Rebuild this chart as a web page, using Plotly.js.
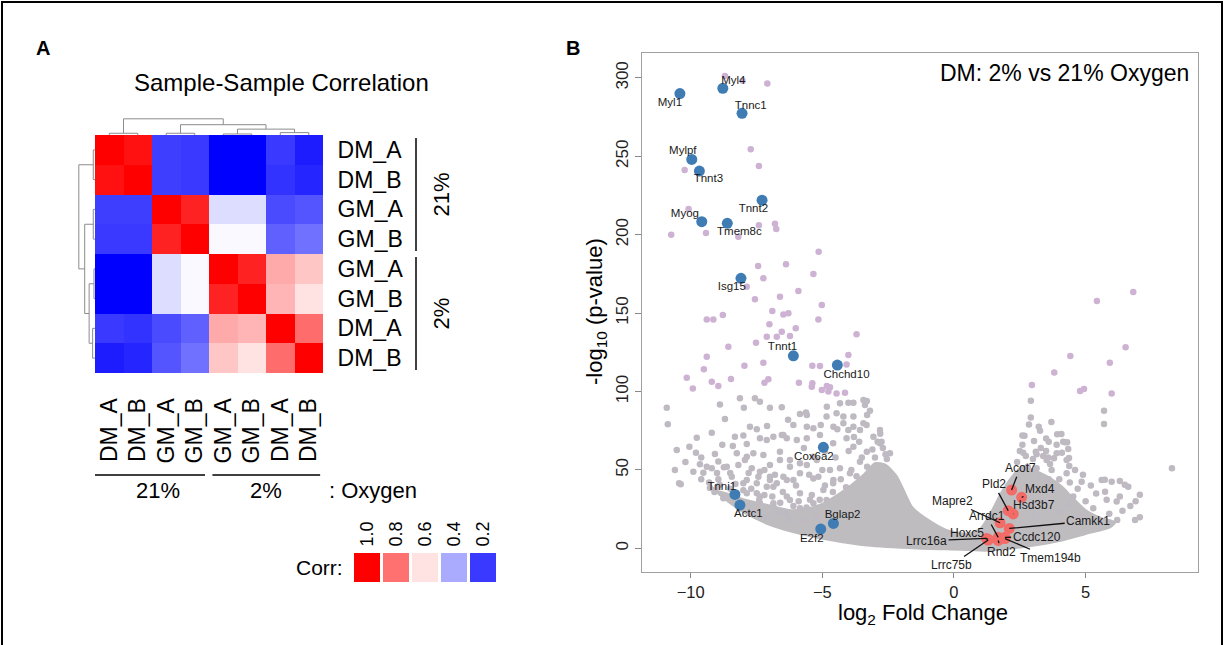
<!DOCTYPE html>
<html><head><meta charset="utf-8">
<script src="https://cdn.plot.ly/plotly-3.0.1.min.js"></script>
<style>
html,body{margin:0;padding:0;background:#fff;}
#wrap{position:relative;width:1226px;height:645px;overflow:hidden;}
#chart{width:1226px;height:645px;}
#frame{position:absolute;left:1px;top:1px;width:1218px;height:700px;border:2px solid #000;border-bottom:none;pointer-events:none;}
</style></head>
<body><div id="wrap"><div id="chart"></div><div id="frame"></div></div>
<script>
// ---------- Panel A data ----------
const sampleLabels = ['DM_A','DM_B','GM_A','GM_B','GM_A','GM_B','DM_A','DM_B'];
const groupLabels = ['21%','2%'];
const groupStart = [0,4];
const groupEnd = [3,7];
const corr = [
 [1.00,0.97,0.21,0.20,0.10,0.10,0.20,0.15],
 [0.97,1.00,0.21,0.20,0.10,0.10,0.19,0.165],
 [0.21,0.21,1.00,0.94,0.49,0.49,0.23,0.25],
 [0.20,0.20,0.94,1.00,0.54,0.54,0.27,0.30],
 [0.10,0.10,0.49,0.54,1.00,0.94,0.70,0.65],
 [0.10,0.10,0.49,0.54,0.94,1.00,0.68,0.60],
 [0.20,0.19,0.23,0.27,0.70,0.68,1.00,0.81],
 [0.15,0.165,0.25,0.30,0.65,0.60,0.81,1.00]
];
// hclust-style merges (negative = leaf, positive = earlier merge)
const mergeA = [-1,-3,-5,-7,3,2,1];
const mergeB = [-2,-4,-6,-8,4,5,6];
const mergeH = [1.7,1.7,1.0,2.3,5.7,10,15.7];
const legendVals = [1.0,0.8,0.6,0.4,0.2];
const legendLabels = ['1.0','0.8','0.6','0.4','0.2'];

// ---------- Panel B data ----------
const hiX = [-8.70,-8.03,-7.09,-7.72,-7.41,-10.23,-10.08,-10.74,-9.42,-7.41,-6.80,-6.75,-8.19,-5.14,-7.44,-6.38,-5.34,-7.24,-7.87,-7.56,-6.61,-5.91,-5.02,-9.39,-9.14,-8.78,-6.90,-6.48,-6.29,-5.15,-7.01,-6.54,-6.01,-7.11,-6.73,-6.23,-3.70,-7.52,-8.57,-9.39,-7.24,-5.38,-5.09,-4.08,-4.01,-9.50,-7.96,-10.15,-9.92,-9.20,-8.95,-8.47,-7.20,-7.05,-5.89,-5.38,-5.02,-4.83,-4.71,-4.46,-4.14,-5.40,-4.77,
  6.81,5.43,6.52,4.42,5.92,3.81,2.96,4.79,4.94,5.99];
const hiY = [301.2,298.2,296.5,254.5,243.8,241.3,216.4,200,201.1,206,207,203.6,198.7,189.2,180,181.1,174.9,172.2,166.8,158.8,160.5,164.1,155.2,146,146,148.8,151.3,149.2,149.9,146,142.9,138.1,140.3,135,135,135.4,136.5,131.1,128.6,122.2,118.4,116.5,116.3,117.3,123.3,114.2,116.5,108.8,102,106.3,103.5,108,105.6,107.8,105.6,105.2,101,103.5,102.7,98.8,99.2,103.1,100,
  163.5,157.7,128.2,122.6,118.4,112.2,104.1,100.3,101.6,98.8];
const loX = [-8.13,-7.37,-8.89,-7.98,-7.56,-6.99,-6.54,-5.85,-5.62,-4.83,-4.33,-3.82,-3.44,-3.38,-3.19,-10.91,-10.87,-8.70,-6.10,-5.59,-5.34,-5.06,-4.58,-4.43,-4.01,-3.82,-3.44,-3.32,-7.49,-6.54,-6.35,-9.20,-9.77,-10.53,-10.05,-9.80,-9.08,-8.40,-8.32,-7.87,-7.11,-5.97,-9.52,-10.44,-10.38,-9.20,-8.74,-8.19,-7.68,-7.43,-6.99,-6.48,-6.10,
  -9.65,-9.39,-8.95,-8.63,-8.25,-7.94,-7.62,-7.37,-6.99,-6.61,-6.23,-5.85,-5.59,-5.34,-5.15,-4.58,-4.33,-9.90,-8.95,-8.44,-8.00,-7.49,-7.11,-6.73,-6.35,-5.85,-5.47,-6.35,-6.86,-7.37,-7.87,-9.07,-8.76,
  -5.59,-4.84,-4.46,-4.20,-3.82,-3.57,-3.06,-2.81,-4.01,-3.31,-5.09,-4.59,-4.08,-3.82,-3.31,-2.81,-2.43,-5.85,-5.21,-4.71,-3.95,-3.57,-5.34,-4.96,-4.59,-5.85,-5.34,-4.84,-5.72,-5.21,-6.61,-6.23,-6.86,-7.75,-7.37,-6.86,-6.48,-5.59,-7.87,-7.24,-6.61,-6.23,-7.87,-7.49,-6.99,-6.86,-6.35,-7.37,-6.23,-7.87,-7.62,-7.11,
  -2.80,-2.75,-2.70,-2.60,-2.55,-9.27,-9.10,-9.00,
  -9.6,-9.3,-8.9,-8.5,-8.3,-8.0,-7.7,-7.4,-7.2,-6.9,-6.6,-6.5,-6.1,-5.9,-5.6,-5.4,-5.1,-4.9,-4.6,-4.3,-4.1,-3.9,-3.7,-3.5,-3.3,-3.1,-3.0,-2.9,-3.6,-4.0,-4.5,-5.0,-5.5,-6.0,-6.8,-7.2,-7.8,-8.5,-9.0,-9.6,-10.2,-10.6,-8.8,-8.0,-7.1,-6.3,-5.7,-4.9,-4.2,-3.8,-3.3,
  2.92,8.28,2.92,5.70,5.70,3.70,3.22,3.27,2.68,3.92,4.08,3.04,4.22,4.30,4.34,2.63,2.73,3.11,3.14,3.39,3.58,3.80,4.37,3.65,4.38,4.15,3.90,3.52,4.28,3.14,3.71,4.28,4.85,5.61,5.99,5.74,6.30,6.62,6.18,6.88,7.06,5.54,5.29,4.78,4.34,4.02,4.53,3.77,3.39,2.88,3.08,5.73,6.49,7.06,
  2.4,2.5,2.6,2.8,3.0,3.3,3.5,3.6,3.9,4.1,4.6,4.9,5.2,5.4,4.7,4.4,4.0,3.6,3.2,5.8,6.4,6.7,5.9,6.2,5.0,2.6,2.85,3.5,6.3,6.9];
const loY = [95.7,93.5,91.8,89.7,95.7,89.7,89.9,85.7,86.7,90.3,92.5,92.9,94.6,91.4,87.8,89.7,79.1,82.5,78.6,77.6,76.5,78.6,77.6,75.9,75.4,77.6,79.7,78.6,75.9,72.3,70.2,73.7,70.5,62.7,64.8,61,60.1,65.2,71.2,66.5,69.1,69.1,48.2,41.5,40.8,51,51.7,53.1,51,45.7,43.6,45.7,43.6,
  53.6,52.1,55.3,52.1,60.6,56.3,60.6,48.9,53.1,56.3,52.1,47.8,53.1,58.4,45.7,43.6,51,48.9,44,45.7,41.5,35.1,39.3,41.5,33,35.1,30.9,22.4,26.6,28.7,35.1,37.2,31.9,
  85,84,86.1,79.7,84,75.4,71.2,75.4,92.8,93.9,72.3,67,70.2,64.8,61.6,67,60.6,54.2,56.3,49.9,47.8,55.2,44.6,37.2,41.5,25.5,28.7,30.8,18.1,20.2,22.3,18.1,28.7,77.6,70.2,71.2,72.3,70.2,58.4,59.5,61.6,56.3,43.6,41.5,45.7,39.3,43.6,33,30.8,26.6,22.3,20.2,
  73,68,64,60,57,38.5,36,39,
  44,42,40.5,38,41,37,38,31,34,33,29,36,27,30,26,34,31,40,36,44,39,50,46,58,52,63,58,68,68,62,58,50,47,40,47,50,48,48,48,58,55,50,66,72,78,82,64,62,84,71,85,
  94.1,51,83.5,87.8,79.3,80.5,77.6,75,71.8,72.7,72.9,68.4,67.6,67.6,63.3,61,58.9,61.6,60,58.9,58,57.4,57.6,53.8,52.5,68,60.6,56.3,56.3,51,49.9,47.8,42.5,43.6,42.5,36.1,33,39.3,29.8,18.1,19.8,16.9,25.5,20.2,27.6,23.3,33,37.2,30.8,26.6,21.3,43.7,40.5,34.1,
  55,62,66,52,57,64,62,68,66,61,50,47,40,35,38,42,44,44,46,31,24,27,22,18,30,72,79,70,43,30];
// outline of the solid, over-plotted core of the cloud
const coreX = [-9.0,-8.1,-7.1,-5.85,-4.6,-3.3,-1.4,0.3,1.2,1.9,2.8,4.0,5.0,5.9,6.1,5.6,5.0,4.5,4.1,3.6,3.1,2.6,2.2,1.8,1.4,1.0,0.5,-0.3,-1.0,-1.6,-1.9,-2.2,-2.6,-3.0,-3.4,-3.9,-4.4,-5.0,-5.6,-6.2,-7.0,-8.0,-8.7,-9.0];
const coreY = [36,24.5,16,9.6,5.3,2.1,0.2,-0.6,-1.2,-0.3,1.5,5,9.5,13.5,16.5,19,24,32,39,45,49,52,45,35,22,12,9,11.5,18,26,36,46,53,54,47,40,34,28,25,24,27,31,35,36];

const blueGenes = ['Myl1','Myl4','Tnnc1','Mylpf','Tnnt3','Tnnt2','Myog','Tmem8c','Isg15','Tnnt1','Chchd10','Cox6a2','Tnni1','Actc1','Bglap2','E2f2'];
const blueX = [-10.41,-8.78,-8.05,-9.96,-9.67,-7.29,-9.58,-8.61,-8.09,-6.10,-4.43,-4.96,-8.32,-8.13,-4.58,-5.06];
const blueY = [290,293.4,277.4,248,240.6,222,208.3,207.3,172.2,122.8,116.9,64.4,34.4,27.6,15.9,12.3];
const blueLabX = [-10.79,-8.38,-7.72,-10.3,-9.33,-7.62,-10.22,-8.15,-8.44,-6.51,-4.08,-5.32,-8.82,-7.81,-4.23,-5.40];
const blueLabY = [283.8,298.2,282,253.6,235.3,216.6,213,201.9,166.5,128,110.5,58,39.3,21.9,21.2,5.7];

const redGenes = ['Acot7','Mxd4','Pld2','Hsd3b7','Mapre2','Arrdc1','Camkk1','Hoxc5','Ccdc120','Lrrc16a','Rnd2','Lrrc75b','Tmem194b'];
const redX = [2.19,2.57,2.06,2.25,1.75,1.68,2.10,1.30,1.94,1.24,1.68,1.30,1.94];
const redY = [37.2,32.5,24.0,21.9,16.3,7.0,12.7,5.7,7.0,6.3,5.0,5.3,6.2];
const redLabX = [2.51,3.27,1.52,3.05,-0.06,1.24,5.10,0.48,3.14,-1.04,1.81,-0.09,3.65];
const redLabY = [51,37.6,40.8,27.4,30.2,20.6,17.4,10,7.4,4.9,-2.1,-10.6,-6];

// ---------- build ----------
const FONT = 'Liberation Sans, Arial, Helvetica, sans-serif';
const W = 1226, H = 645;
const px = v => v / W, py = v => 1 - v / H;

function dendro(){
  const pos = [], hgt = [], xs = [], ys = [];
  const P = i => i < 0 ? -i - 1 : pos[i - 1];
  const Hh = i => i < 0 ? 0 : hgt[i - 1];
  for (let k = 0; k < mergeA.length; k++){
    const a = mergeA[k], b = mergeB[k], h = mergeH[k];
    const pa = P(a), pb = P(b);
    xs.push(pa, pa, pb, pb, null); ys.push(Hh(a), h, h, Hh(b), null);
    pos.push((pa + pb) / 2); hgt.push(h);
  }
  return {xs, ys};
}
const dd = dendro();
const idx = sampleLabels.map((_, i) => i);
const cs = [[0,'#0000FF'],[0.5,'#FFFFFF'],[1,'#FF0000']];

const traces = [
  {type:'heatmap', z:corr, x:idx, y:idx, xaxis:'x', yaxis:'y', zmin:0.1, zmax:1.0, colorscale:cs, showscale:false, hoverinfo:'skip'},
  {type:'scatter', mode:'lines', x:dd.xs, y:dd.ys, xaxis:'x2', yaxis:'y2', line:{color:'#8c8c8c', width:1}, hoverinfo:'skip'},
  {type:'scatter', mode:'lines', x:dd.ys, y:dd.xs, xaxis:'x3', yaxis:'y3', line:{color:'#8c8c8c', width:1}, hoverinfo:'skip'},
  {type:'heatmap', z:[legendVals], x:legendVals.map((_, i) => i), y:[0], xaxis:'x4', yaxis:'y4', zmin:0.1, zmax:1.0, colorscale:cs, showscale:false, xgap:3, hoverinfo:'skip'},
  {type:'scatter', mode:'lines', x:coreX, y:coreY, xaxis:'x5', yaxis:'y5', fill:'toself', fillcolor:'#BEBCBF', line:{color:'#BEBCBF', width:3, shape:'spline', smoothing:0.6}, hoverinfo:'skip'},
  {type:'scatter', mode:'markers', x:loX, y:loY, xaxis:'x5', yaxis:'y5', marker:{size:6.5, color:'#BFB9C2'}, hoverinfo:'skip'},
  {type:'scatter', mode:'markers', x:hiX, y:hiY, xaxis:'x5', yaxis:'y5', marker:{size:6.5, color:'#CDB2D3'}, hoverinfo:'skip'},
  {type:'scatter', mode:'markers', x:redX, y:redY, xaxis:'x5', yaxis:'y5', marker:{size:11, color:'#F26B66'}, hoverinfo:'skip'},
  {type:'scatter', mode:'markers', x:blueX, y:blueY, xaxis:'x5', yaxis:'y5', marker:{size:11, color:'#3F7CB3'}, hoverinfo:'skip'},
  {type:'scatter', mode:'text', x:blueLabX, y:blueLabY, text:blueGenes, xaxis:'x5', yaxis:'y5', textfont:{family:FONT, size:11.5, color:'#1a1a1a'}, hoverinfo:'skip'}
];

const hmX = [px(95), px(323)], hmY = [py(373), py(135)];
const hidden = {visible:false, showgrid:false, zeroline:false};
const layout = {
  width:W, height:H, margin:{l:0,r:0,t:0,b:0}, paper_bgcolor:'#fff', plot_bgcolor:'rgba(0,0,0,0)',
  showlegend:false, hovermode:false, font:{family:FONT, color:'#000'},
  xaxis:{domain:hmX, anchor:'y', range:[-0.5,7.5], tickvals:idx, ticktext:sampleLabels, tickangle:-90,
    ticks:'outside', ticklen:15, tickcolor:'rgba(0,0,0,0)', showline:false, showgrid:false, zeroline:false,
    tickfont:{size:23, color:'#000', family:FONT}},
  yaxis:{domain:hmY, anchor:'x', range:[7.5,-0.5], side:'right', tickvals:idx, ticktext:sampleLabels,
    ticks:'outside', ticklen:9, tickcolor:'rgba(0,0,0,0)', showline:false, showgrid:false, zeroline:false,
    tickfont:{size:23, color:'#000', family:FONT}},
  xaxis2:Object.assign({domain:hmX, anchor:'y2', range:[-0.5,7.5]}, hidden),
  yaxis2:Object.assign({domain:[py(135), py(118)], anchor:'x2', range:[0,16.5]}, hidden),
  xaxis3:Object.assign({domain:[px(78), px(95)], anchor:'y3', range:[16.5,0]}, hidden),
  yaxis3:Object.assign({domain:hmY, anchor:'x3', range:[7.5,-0.5]}, hidden),
  xaxis4:{domain:[px(353), px(498)], anchor:'y4', side:'top', range:[-0.5,4.5], tickvals:legendVals.map((_, i) => i), ticktext:legendLabels,
    tickangle:-90, ticks:'outside', ticklen:2, tickcolor:'rgba(0,0,0,0)', showline:false, showgrid:false, zeroline:false,
    tickfont:{size:18, color:'#000', family:FONT}},
  yaxis4:Object.assign({domain:[py(582), py(553)], anchor:'x4', range:[-0.5,0.5]}, hidden),
  xaxis5:{domain:[px(642), px(1198)], anchor:'y5', range:[-11.85,9.27], tickvals:[-10,-5,0,5],
    ticks:'outside', ticklen:5, tickcolor:'#888', showline:true, mirror:true, linecolor:'#a0a0a0', linewidth:1.2,
    showgrid:false, zeroline:false, tickfont:{size:16.5, color:'#222', family:FONT}},
  yaxis5:{domain:[py(572), py(53)], anchor:'x5', range:[-15.1,315.9], tickvals:[0,50,100,150,200,250,300], tickangle:-90,
    ticks:'outside', ticklen:6, tickcolor:'#888', showline:true, mirror:true, linecolor:'#a0a0a0', linewidth:1.2,
    showgrid:false, zeroline:false, tickfont:{size:17, color:'#222', family:FONT}},
  shapes:[], annotations:[]
};

// group brackets
groupLabels.forEach((g, i) => {
  layout.shapes.push({type:'line', xref:'paper', yref:'y', x0:px(416), x1:px(416), y0:groupStart[i]-0.4, y1:groupEnd[i]+0.4, line:{color:'#000', width:1.5}});
  layout.shapes.push({type:'line', xref:'x', yref:'paper', x0:groupStart[i]-0.5+(i?0.12:0), x1:groupEnd[i]+0.5-(i?0.1:0.14), y0:py(475), y1:py(475), line:{color:'#000', width:1.5}});
  layout.annotations.push({xref:'paper', yref:'y', x:px(441), y:(groupStart[i]+groupEnd[i])/2, xanchor:'center', yanchor:'middle', text:g, showarrow:false, textangle:-90, font:{size:22, family:FONT, color:'#000'}});
  layout.annotations.push({xref:'x', yref:'paper', x:(groupStart[i]+groupEnd[i])/2 + (i?0:0.2), y:py(490), xanchor:'center', yanchor:'middle', text:g, showarrow:false, font:{size:22, family:FONT, color:'#000'}});
});
const A = (x, y, text, size, extra) => layout.annotations.push(Object.assign({xref:'paper', yref:'paper', x:px(x), y:py(y), xanchor:'center', yanchor:'middle', text, showarrow:false, font:{size, family:FONT, color:'#000'}}, extra||{}));
A(43, 48, '<b>A</b>', 20);
A(573, 48, '<b>B</b>', 20);
A(281, 83, 'Sample-Sample Correlation', 24);
A(327, 490, ': Oxygen', 22, {xanchor:'left'});
A(345, 567, 'Corr:', 21, {xanchor:'right'});
A(1191, 73, 'DM: 2% vs 21% Oxygen', 23, {xanchor:'right'});
A(923, 614, 'log<sub>2</sub> Fold Change', 22);
A(596, 312, '-log<sub>10</sub> (p-value)', 22, {textangle:-90});

redGenes.forEach((g, i) => layout.annotations.push({
  xref:'x5', yref:'y5', axref:'x5', ayref:'y5', x:redX[i], y:redY[i], ax:redLabX[i], ay:redLabY[i],
  text:g, showarrow:true, arrowhead:0, arrowwidth:1.3, arrowcolor:'#111', standoff:0,
  font:{size:12, family:FONT, color:'#1a1a1a'}
}));

Plotly.newPlot('chart', traces, layout, {staticPlot:true, displayModeBar:false});
</script>
</body></html>
